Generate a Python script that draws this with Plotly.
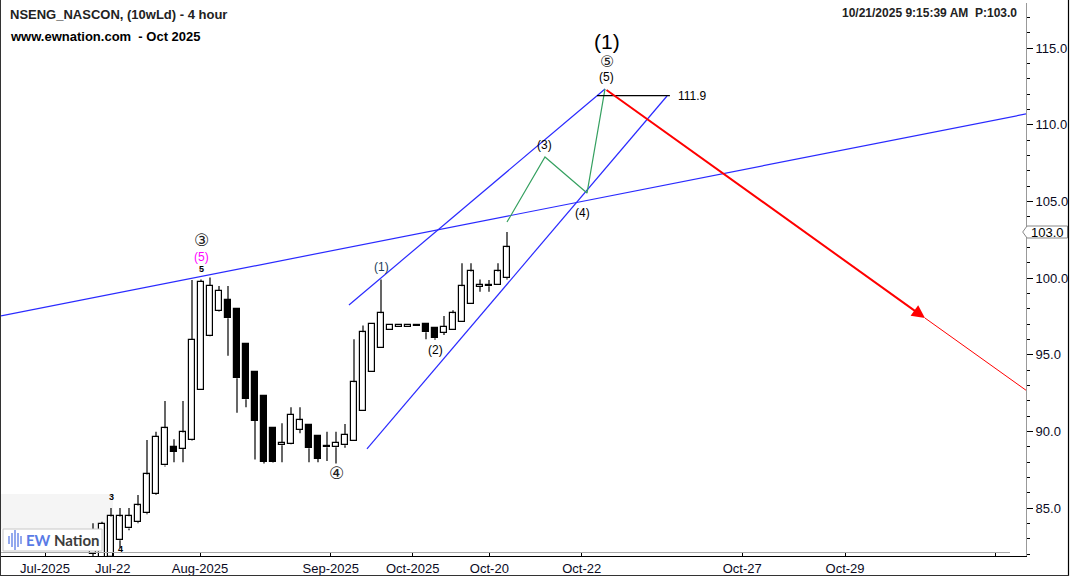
import plotly.graph_objects as go

# ---------------- data ----------------
bar_index = list(range(-1, 46))
opens = [82.0, 81.6, 81.8, 82.9, 83.67, 84.07, 84.65, 85.89, 87.78, 88.98, 88.85,
         89.43, 92.7, 96.22, 97.83, 98.57, 97.96, 95.7, 93.87, 92.3, 90.22,
         89.09, 89.17, 90.09, 90.41, 89.7, 89.04, 88.96, 89.09, 89.39, 91.3,
         93.85, 95.41, 96.59, 96.78, 96.83, 96.93, 96.98, 96.72, 96.41, 96.61,
         97.13, 98.3, 99.41, 99.52, 99.54, 99.98]
highs = [84.0, 84.1, 85.0, 85.0, 85.0, 85.85, 89.43, 89.98, 91.98, 89.48, 91.98,
         99.87, 99.9, 100.04, 99.48, 99.48, 97.98, 95.72, 93.9, 92.3, 90.22,
         90.52, 91.57, 91.57, 90.45, 89.7, 89.98, 89.98, 90.48, 96.0, 96.91,
         97.0, 99.91, 96.96, 96.96, 96.96, 96.93, 96.98, 96.72, 97.52, 97.89,
         100.96, 100.96, 99.91, 99.87, 100.96, 103.0]
lows = [81.5, 81.2, 81.4, 82.4, 83.55, 84.0, 84.6, 85.85, 87.7, 87.98, 87.98,
        89.4, 92.7, 96.2, 97.8, 94.93, 91.22, 91.57, 88.17, 87.9, 87.95,
        87.98, 89.15, 89.87, 87.98, 87.98, 88.07, 87.9, 88.93, 89.39, 91.3,
        93.85, 95.41, 96.59, 96.78, 96.83, 96.89, 96.0, 95.98, 96.28, 96.61,
        97.13, 98.3, 99.11, 99.11, 99.54, 99.9]
closes = [83.3, 83.95, 84.45, 84.45, 84.46, 85.17, 87.19, 89.65, 90.2, 88.67, 89.93,
          95.96, 99.76, 99.48, 99.17, 97.37, 93.46, 92.09, 90.7, 88.02, 87.98,
          89.26, 91.07, 90.72, 88.89, 88.2, 88.96, 89.26, 89.76, 93.2, 96.46,
          97.0, 97.7, 96.96, 96.96, 96.96, 96.89, 96.46, 96.07, 96.83, 97.7,
          99.46, 100.43, 99.54, 99.46, 100.43, 102.0]

tick_positions = [-6.33, 1.19, 10.89, 25.41, 34.52, 43.04, 53.3, 71.14, 82.56, 99.33]
tick_labels = ["Jul-2025", "Jul-22", "Aug-2025", "Sep-2025", "Oct-2025", "Oct-20",
               "Oct-22", "Oct-27", "Oct-29", ""]
price_ticks = [85, 90, 95, 100, 105, 110, 115]

# analyst lines (bar index, price)
resistance_x = [-11.22, 102.67]
resistance_y = [97.53, 110.70]
upper_channel_x = [27.44, 55.89]
upper_channel_y = [98.24, 112.33]
lower_channel_x = [29.44, 62.78]
lower_channel_y = [88.85, 111.87]
wave_x = [45.0, 49.22, 53.89, 55.89]
wave_y = [103.65, 107.89, 105.54, 112.33]
projection_x = [55.89, 91.44, 102.67]
projection_y = [112.33, 97.39, 92.68]
target_level = 111.9
target_span = [55.0, 63.1]
last_price = 103.0

# ---------------- geometry helpers ----------------
W, H = 1070, 577
ML, MR, MT, MB = 1, 44, 3, 21
PW, PH = W - ML - MR, H - MT - MB


def px_x(p):
    return (p - ML) / PW


def px_y(p):
    return (H - MB - p) / PH


fig = go.Figure()

# candle wicks
wx, wy = [], []
for i, o, h, l, c in zip(bar_index, opens, highs, lows, closes):
    lo_b, hi_b = min(o, c), max(o, c)
    if l < lo_b:
        wx += [i, i, None]
        wy += [l, lo_b, None]
    if h > hi_b:
        wx += [i, i, None]
        wy += [hi_b, h, None]
fig.add_trace(go.Scatter(x=wx, y=wy, mode="lines", line=dict(color="black", width=1.2),
                         hoverinfo="skip", showlegend=False))

# candle bodies
for up in (True, False):
    xs, hs, bs = [], [], []
    for i, o, c in zip(bar_index, opens, closes):
        if (c >= o) == up:
            xs.append(i)
            bs.append(min(o, c))
            hs.append(max(abs(c - o), 0.05))
    fig.add_trace(go.Bar(x=xs, y=hs, base=bs, width=0.62,
                         marker=dict(color="white" if up else "black",
                                     line=dict(color="black", width=1.2)),
                         hoverinfo="skip", showlegend=False))

# lines
fig.add_trace(go.Scatter(x=resistance_x, y=resistance_y, mode="lines",
                         line=dict(color="#2a2aff", width=1.2), hoverinfo="skip", showlegend=False))
fig.add_trace(go.Scatter(x=upper_channel_x, y=upper_channel_y, mode="lines",
                         line=dict(color="#2a2aff", width=1.2), hoverinfo="skip", showlegend=False))
fig.add_trace(go.Scatter(x=lower_channel_x, y=lower_channel_y, mode="lines",
                         line=dict(color="#2a2aff", width=1.2), hoverinfo="skip", showlegend=False))
fig.add_trace(go.Scatter(x=wave_x, y=wave_y, mode="lines",
                         line=dict(color="#35a060", width=1.2), hoverinfo="skip", showlegend=False))
fig.add_trace(go.Scatter(x=projection_x[1:], y=projection_y[1:], mode="lines",
                         line=dict(color="#ff0000", width=1), hoverinfo="skip", showlegend=False))
fig.add_trace(go.Scatter(x=target_span, y=[target_level, target_level], mode="lines",
                         line=dict(color="black", width=1.2), hoverinfo="skip", showlegend=False))

LF = "Liberation Sans, Arial, sans-serif"
CF = "DejaVu Sans, Noto Sans CJK JP, sans-serif"
ann = []
# red arrow
ann.append(dict(x=projection_x[1], y=projection_y[1], ax=projection_x[0], ay=projection_y[0],
                xref="x", yref="y", axref="x", ayref="y", showarrow=True, arrowhead=2,
                arrowsize=1.3, arrowwidth=2, arrowcolor="#ff0000", text=""))


def lab(x, y, text, size=12, color="black", family=LF):
    ann.append(dict(x=x, y=y, xref="x", yref="y", text=text, showarrow=False,
                    font=dict(size=size, color=color, family=family)))


lab(11, 102.48, "③", 17, "#222222", CF)
lab(11, 101.40, "(5)", 12, "#ff00ff")
lab(11, 100.59, "<b>5</b>", 9)
lab(1, 85.72, "<b>3</b>", 9)
lab(2, 82.33, "<b>4</b>", 9)
lab(26, 87.28, "④", 17, "#222222", CF)
lab(31, 100.72, "(1)", 12, "#1c3d5a")
lab(37, 95.30, "(2)", 12)
lab(49.22, 108.67, "(3)", 12)
lab(53.44, 104.24, "(4)", 12)
lab(56.11, 113.11, "(5)", 12)
lab(56.11, 114.15, "⑤", 16, "#222222", CF)
lab(56.11, 115.42, "(1)", 21)
ann.append(dict(x=63.8, y=target_level, xref="x", yref="y", text="111.9", showarrow=False,
                xanchor="left", font=dict(size=12, color="black", family=LF)))

# header texts
ann.append(dict(x=px_x(8), y=px_y(14), xref="paper", yref="paper", xanchor="left", yanchor="middle",
                text="<b>NSENG_NASCON, (10wLd) - 4 hour</b>", showarrow=False,
                font=dict(size=13, color="#222222", family=LF)))
ann.append(dict(x=px_x(8), y=px_y(36), xref="paper", yref="paper", xanchor="left", yanchor="middle",
                text="<b>www.ewnation.com \u00a0- Oct 2025</b>", showarrow=False,
                font=dict(size=13, color="black", family=LF)))
ann.append(dict(x=px_x(1019), y=px_y(13), xref="paper", yref="paper", xanchor="right", yanchor="middle",
                text="<b>10/21/2025 9:15:39 AM \u00a0P:103.0</b>", showarrow=False,
                font=dict(size=12, color="#222222", family=LF)))
# price tag
ann.append(dict(x=px_x(1029), y=last_price, xref="paper", yref="y", xanchor="left", yanchor="middle",
                text="103.0", showarrow=False, font=dict(size=13, color="black", family=LF)))
# logo text
ann.append(dict(x=px_x(24), y=px_y(540), xref="paper", yref="paper", xanchor="left", yanchor="middle",
                text="<span style='color:#5a7be6'><b>EW</b></span><span style='color:#3c3c3c'><b> Nation</b></span>",
                showarrow=False, font=dict(size=15, family="Lato, Liberation Sans, sans-serif")))

shapes = []
# light shaded area behind logo
shapes.append(dict(type="rect", xref="paper", yref="paper", x0=px_x(0), x1=px_x(113),
                   y0=px_y(529), y1=px_y(494), fillcolor="#f5f5f5", line=dict(width=0), layer="below"))
# logo box
shapes.append(dict(type="rect", xref="paper", yref="paper", x0=px_x(3), x1=px_x(102),
                   y0=px_y(551), y1=px_y(529), fillcolor="white", line=dict(color="#c8c8c8", width=1),
                   layer="above"))
for bx, bh in zip([9, 12, 15, 18, 21], [4, 7, 10, 7, 4]):
    shapes.append(dict(type="line", xref="paper", yref="paper", x0=px_x(bx), x1=px_x(bx),
                       y0=px_y(540 + bh), y1=px_y(540 - bh), line=dict(color="#6f8de8", width=1.5),
                       layer="above"))
# price tag outline
half = 6 / PH * (117.935 - 81.87)
shapes.append(dict(type="path", xref="paper", yref="y",
                   path=(f"M {px_x(1022.7)},{last_price} L {px_x(1027)},{last_price + half} "
                         f"L {px_x(1067.5)},{last_price + half} L {px_x(1067.5)},{last_price - half} "
                         f"L {px_x(1027)},{last_price - half} Z"),
                   fillcolor="white", line=dict(color="#888888", width=1), layer="above"))
# gray inner frame line near bottom
shapes.append(dict(type="line", xref="paper", yref="paper", x0=px_x(0), x1=px_x(1010),
                   y0=px_y(552.5), y1=px_y(552.5), line=dict(color="#a8a8a8", width=1)))
# outer border
shapes.append(dict(type="line", xref="paper", yref="paper", x0=px_x(0.5), x1=px_x(0.5),
                   y0=px_y(576), y1=px_y(0), line=dict(color="#333333", width=1)))
shapes.append(dict(type="line", xref="paper", yref="paper", x0=px_x(1068.5), x1=px_x(1068.5),
                   y0=px_y(576), y1=px_y(0), line=dict(color="black", width=1.2)))
shapes.append(dict(type="line", xref="paper", yref="paper", x0=px_x(0), x1=px_x(1069),
                   y0=px_y(575.5), y1=px_y(575.5), line=dict(color="#333333", width=1)))

fig.update_layout(
    width=W, height=H,
    margin=dict(l=ML, r=MR, t=MT, b=MB, pad=0),
    paper_bgcolor="white", plot_bgcolor="white",
    barmode="overlay", bargap=0, showlegend=False,
    annotations=ann, shapes=shapes,
    xaxis=dict(range=[-11.222, 102.667], tickmode="array", tickvals=tick_positions,
               ticktext=tick_labels, ticks="inside", ticklen=4, tickcolor="black",
               showgrid=False, zeroline=False, showline=True, linecolor="black", linewidth=1,
               tickfont=dict(size=13, color="#0a0a1e", family=LF), fixedrange=True),
    yaxis=dict(side="right", range=[81.87, 117.935], tickmode="array", tickvals=price_ticks,
               ticktext=[f"{v:.1f}" for v in price_ticks], ticks="outside", ticklen=6,
               tickcolor="black", showgrid=False, zeroline=False, showline=True,
               linecolor="#999999", linewidth=1,
               tickfont=dict(size=13, color="#0a0a1e", family=LF),
               minor=dict(dtick=1, ticks="outside", ticklen=3, tickcolor="black", showgrid=False)),
)

fig.write_html("out.html", config={"displayModeBar": False},
               post_script="document.body.style.margin='0';document.body.style.overflow='hidden';")
